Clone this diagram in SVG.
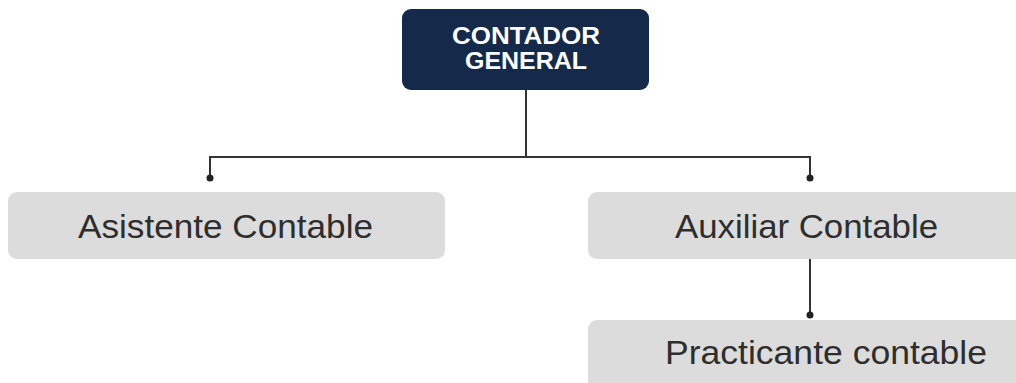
<svg xmlns="http://www.w3.org/2000/svg" width="1016" height="383" viewBox="0 0 1016 383">
  <style>
    .root { fill: #15294b; }
    .box { fill: #dcdcdc; }
    .rootText { font-family: "Liberation Sans", Arial, sans-serif; font-weight: bold; font-size: 23px; fill: #ffffff; text-anchor: middle; }
    .label { font-family: "Liberation Sans", Arial, sans-serif; font-size: 33px; fill: #2e2e2e; }
    .wire { fill: none; stroke: #333333; stroke-width: 2; }
    .dot { fill: #222222; }
  </style>
  <rect width="1016" height="383" fill="#ffffff"/>
  <g id="connectors">
    <path class="wire" d="M526 90 V157"/>
    <path class="wire" d="M210 178 V157 H810 V178"/>
    <path class="wire" d="M810 259 V315"/>
    <circle class="dot" cx="210" cy="178" r="3.5"/>
    <circle class="dot" cx="810" cy="178" r="3.5"/>
    <circle class="dot" cx="810" cy="315" r="3.5"/>
  </g>
  <g id="contador-general">
    <rect class="root" x="402" y="9" width="247" height="81" rx="9"/>
    <text class="rootText" x="526" y="44" textLength="148" lengthAdjust="spacingAndGlyphs">CONTADOR</text>
    <text class="rootText" x="526" y="68.5" textLength="122" lengthAdjust="spacingAndGlyphs">GENERAL</text>
  </g>
  <g id="asistente-contable">
    <rect class="box" x="8" y="192" width="437" height="67" rx="9"/>
    <text class="label" x="78" y="237.5" textLength="295" lengthAdjust="spacingAndGlyphs">Asistente Contable</text>
  </g>
  <g id="auxiliar-contable">
    <rect class="box" x="588" y="192" width="440" height="67" rx="9"/>
    <text class="label" x="675" y="237.5" textLength="263" lengthAdjust="spacingAndGlyphs">Auxiliar Contable</text>
  </g>
  <g id="practicante-contable">
    <rect class="box" x="588" y="320" width="440" height="80" rx="9"/>
    <text class="label" x="665" y="364" textLength="322" lengthAdjust="spacingAndGlyphs">Practicante contable</text>
  </g>
</svg>
